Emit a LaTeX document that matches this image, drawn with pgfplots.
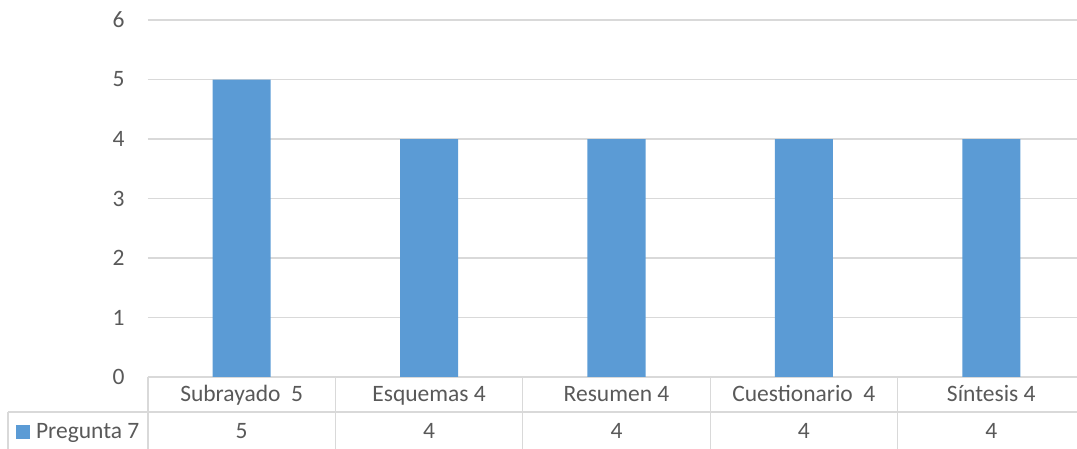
\documentclass[border=0pt]{standalone}
\usepackage{pgfplots}
\usepackage{pgfplotstable}
\usepackage{fontspec}
\setmainfont{Carlito}
\pgfplotsset{compat=1.18}
\definecolor{barblue}{HTML}{5B9BD5}
\definecolor{txtgray}{HTML}{595959}
\definecolor{gridgray}{HTML}{D9D9D9}
\pgfplotstableread{
x v
0 5
1 4
2 4
3 4
4 4
}\datatable
\newcommand{\bigfont}{\fontsize{23.5}{28}\selectfont}
\begin{document}
\begin{tikzpicture}
\begin{axis}[
  scale only axis,
  width=937pt, height=357pt,
  xmin=-0.5, xmax=4.5, ymin=0, ymax=6,
  axis line style={draw=none},
  clip=false,
  ytick={0,1,2,3,4,5,6},
  xtick={0,1,2,3,4},
  xticklabels={Subrayado\ \ 5, Esquemas 4, Resumen 4, Cuestionario\ \ 4, Síntesis 4},
  /pgf/number format/assume math mode=true,
  ymajorgrids,
  grid style={gridgray, line width=1.3pt},
  major tick length=0pt,
  tick style={draw=none},
  yticklabel style={anchor=east, xshift=-20pt, font=\bigfont, text=txtgray},
  xticklabel style={anchor=base, yshift=-25pt, font=\bigfont, text=txtgray},
]
\addplot[ybar, bar width=58pt, fill=barblue, draw=none] table[x=x, y=v]{\datatable};
\addplot[draw=none, mark=none, nodes near coords={\pgfplotspointmeta}, point meta=explicit symbolic,
  every node near coord/.append style={anchor=base, yshift=-62pt, font=\bigfont, text=txtgray}]
  table[x=x, y expr=0, meta=v]{\datatable};
% data table lines
\pgfplotsinvokeforeach{-0.5,0.5,1.5,2.5,3.5,4.5}{
  \draw[gridgray, line width=1.3pt] (axis cs:#1,0) -- (axis cs:#1,-1.3);
}
\draw[gridgray, line width=1.3pt] (axis cs:-1.247,-0.588) -- (axis cs:4.6,-0.588);
\draw[gridgray, line width=1.3pt] (axis cs:-1.247,-0.588) -- (axis cs:-1.247,-1.3);
\node[anchor=base west, inner sep=0pt, font=\bigfont, text=txtgray] at (axis cs:-1.205,-1.04)
  {\textcolor{barblue}{\rule{14pt}{14pt}}\hspace{6pt}Pregunta 7};
\end{axis}
\pgfresetboundingbox
\path[use as bounding box] (-148pt,-72pt) rectangle (929pt,377pt);
\end{tikzpicture}
\end{document}
